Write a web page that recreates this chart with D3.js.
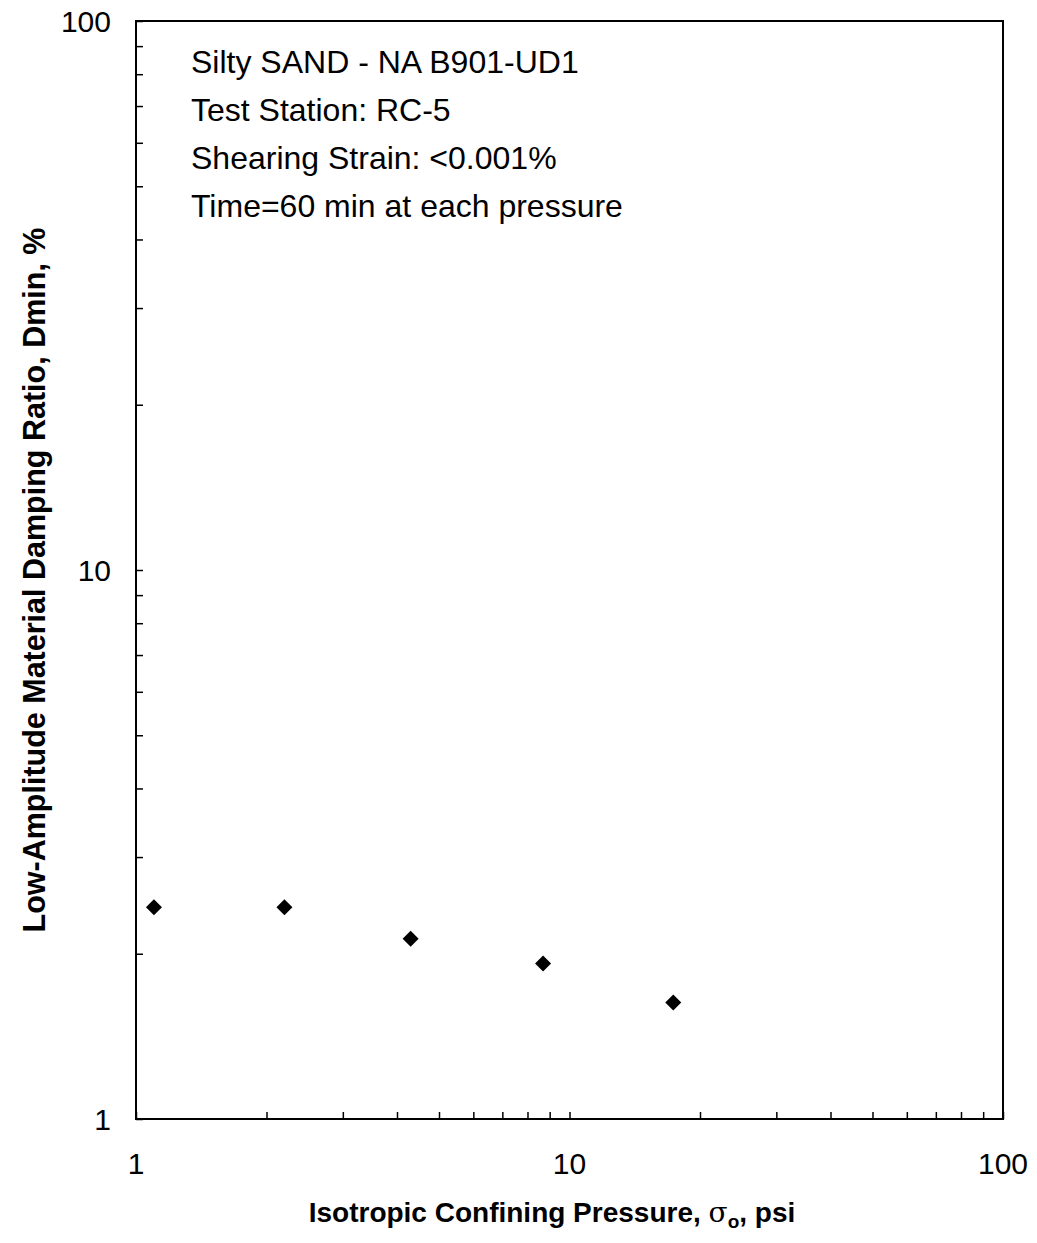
<!DOCTYPE html>
<html>
<head>
<meta charset="utf-8">
<script src="https://cdn.jsdelivr.net/npm/d3@7"></script>
<style>
  html, body { margin: 0; padding: 0; background: #fff; }
  svg { display: block; }
  text { font-family: "Liberation Sans", Arial, sans-serif; fill: #000; }
</style>
</head>
<body>
<script>
// Isotropic confining pressure (psi) and low-amplitude damping ratio (%)
const pressure = [1.10, 2.20, 4.30, 8.69, 17.35];
const damping  = [2.43, 2.43, 2.13, 1.92, 1.63];

const xTickLabels = [1, 10, 100];
const yTickLabels = [1, 10, 100];

const noteLines = [
  "Silty SAND - NA B901-UD1",
  "Test Station: RC-5",
  "Shearing Strain: <0.001%",
  "Time=60 min at each pressure"
];

const W = 1037, H = 1243;
const plot = { left: 136, right: 1003, top: 21, bottom: 1119 };

const svg = d3.select("body").append("svg")
  .attr("width", W).attr("height", H);

const x = d3.scaleLog().domain([1, 100]).range([plot.left, plot.right]);
const y = d3.scaleLog().domain([1, 100]).range([plot.bottom, plot.top]);

// every integer value within each decade gets a tick
const logTicks = [];
for (let d = 1; d < 100; d *= 10) for (let k = 1; k < 10; k++) logTicks.push(d * k);
logTicks.push(100);

const tickLen = 7;

// bottom axis: ticks point up into the plot
const xAxis = d3.axisBottom(x).tickValues(logTicks)
  .tickSize(-tickLen).tickFormat(() => "");
svg.append("g").attr("transform", `translate(0,${plot.bottom})`).call(xAxis)
  .call(g => g.select(".domain").remove())
  .call(g => g.selectAll("line").attr("stroke", "#000").attr("stroke-width", 1.5));

// left axis: ticks point right into the plot
const yAxis = d3.axisLeft(y).tickValues(logTicks)
  .tickSize(-tickLen).tickFormat(() => "");
svg.append("g").attr("transform", `translate(${plot.left},0)`).call(yAxis)
  .call(g => g.select(".domain").remove())
  .call(g => g.selectAll("line").attr("stroke", "#000").attr("stroke-width", 1.5));

// plot frame
svg.append("rect")
  .attr("x", plot.left).attr("y", plot.top)
  .attr("width", plot.right - plot.left).attr("height", plot.bottom - plot.top)
  .attr("fill", "none").attr("stroke", "#000").attr("stroke-width", 2);

// tick labels
svg.append("g").selectAll("text").data(xTickLabels).join("text")
  .attr("x", d => x(d)).attr("y", plot.bottom + 55)
  .attr("text-anchor", "middle").attr("font-size", 30)
  .text(d => d);

svg.append("g").selectAll("text").data(yTickLabels).join("text")
  .attr("x", plot.left - 25).attr("y", d => y(d) + 11)
  .attr("text-anchor", "end").attr("font-size", 30)
  .text(d => d);

// axis titles
const xt = svg.append("text")
  .attr("x", 552).attr("y", 1222)
  .attr("text-anchor", "middle").attr("font-size", 28).attr("font-weight", "bold");
xt.append("tspan").text("Isotropic Confining Pressure, ");
xt.append("tspan").attr("font-family", "'DejaVu Serif', 'Liberation Serif', serif")
  .attr("font-weight", "normal").text("σ");
xt.append("tspan").attr("font-size", 19).attr("dy", 6).text("o");
xt.append("tspan").attr("dy", -6).text(", psi");

svg.append("text")
  .attr("transform", "translate(45,580) rotate(-90)")
  .attr("text-anchor", "middle").attr("font-size", 30.5).attr("font-weight", "bold")
  .text("Low-Amplitude Material Damping Ratio, Dmin, %");

// specimen notes
svg.append("g").selectAll("text").data(noteLines).join("text")
  .attr("x", 191).attr("y", (d, i) => 73 + i * 48)
  .attr("font-size", 32)
  .text(d => d);

// data markers (filled diamonds)
const r = 8;
svg.append("g").selectAll("path").data(pressure.map((p, i) => [p, damping[i]])).join("path")
  .attr("transform", d => `translate(${x(d[0])},${y(d[1])})`)
  .attr("d", `M0,${-r}L${r},0L0,${r}L${-r},0Z`)
  .attr("fill", "#000");
</script>
</body>
</html>
